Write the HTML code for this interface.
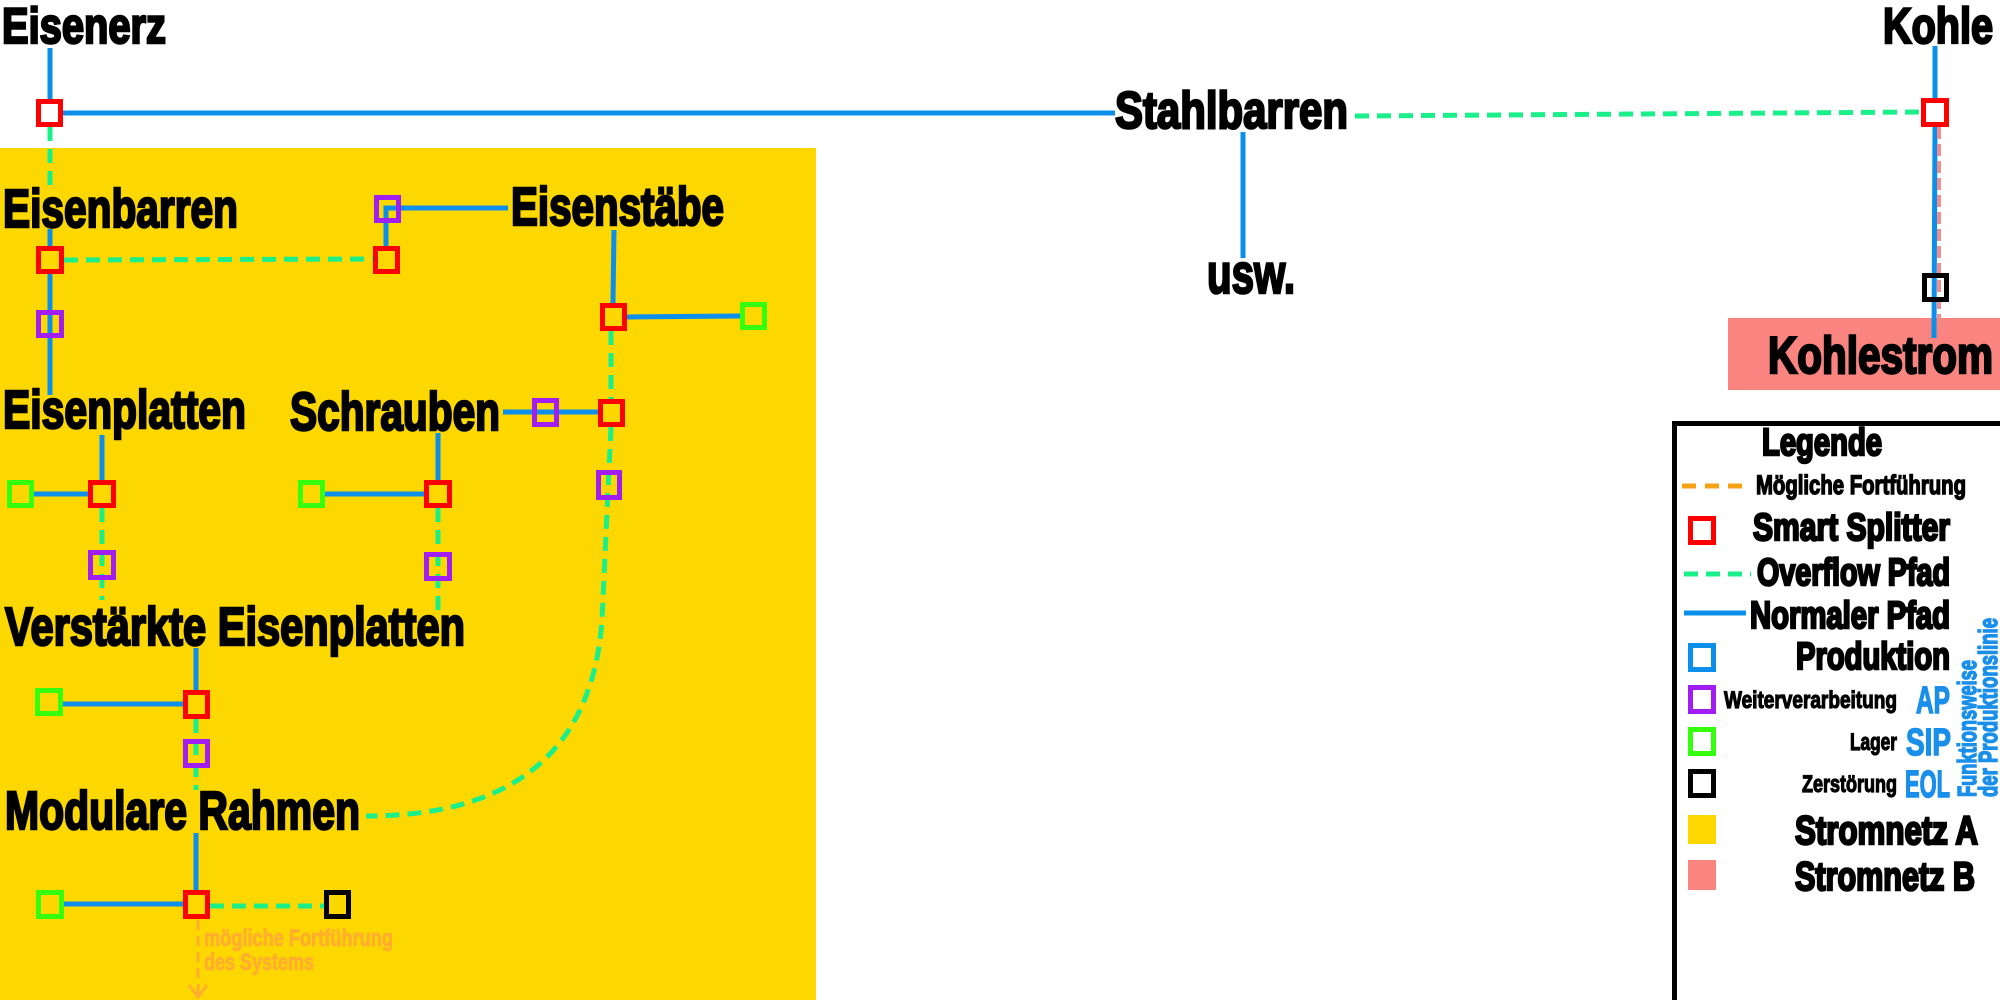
<!DOCTYPE html>
<html><head><meta charset="utf-8"><style>
html,body{margin:0;padding:0;background:#fff;width:2000px;height:1000px;overflow:hidden}
svg{display:block}
text{font-family:"Liberation Sans",sans-serif;font-weight:bold;fill:#000}
.t{stroke:#000;stroke-width:2.5}
.b text{fill:#1A8FEA;stroke:#1A8FEA;stroke-width:1.5}
</style></head><body>
<svg width="2000" height="1000" viewBox="0 0 2000 1000" xmlns="http://www.w3.org/2000/svg">
<rect x="0" y="0" width="2000" height="1000" fill="#fff"/>
<rect x="0" y="148" width="816" height="852" fill="#FDD700"/>
<rect x="1728" y="318" width="272" height="72" fill="#FA8480"/>

<g fill="none" stroke-linecap="butt">
<g stroke="#0C8FEA" stroke-width="5">
<line x1="50" y1="48" x2="50" y2="99"/>
<line x1="63" y1="113" x2="1115" y2="113"/>
<line x1="1243" y1="132" x2="1243" y2="258"/>
<line x1="1935" y1="46" x2="1935" y2="98"/>
<line x1="1935" y1="127" x2="1934" y2="338"/>
<line x1="50" y1="229" x2="50" y2="246"/>
<line x1="50" y1="274" x2="50" y2="395"/>
<polyline points="386,246 386,208 508,208"/>
<line x1="614" y1="230" x2="613" y2="303"/>
<line x1="627" y1="317" x2="740" y2="316"/>
<line x1="503" y1="412" x2="598" y2="412"/>
<line x1="102" y1="435" x2="102" y2="480"/>
<line x1="34" y1="494" x2="88" y2="494"/>
<line x1="438" y1="433" x2="438" y2="480"/>
<line x1="325" y1="494" x2="424" y2="494"/>
<line x1="196" y1="648" x2="196" y2="690"/>
<line x1="63" y1="704" x2="183" y2="704"/>
<line x1="196" y1="833" x2="196" y2="890"/>
<line x1="64" y1="904" x2="183" y2="904"/>
<line x1="1684" y1="613" x2="1746" y2="613"/>
</g>
<g stroke="#19F08A" stroke-width="5" stroke-dasharray="14 8">
<line x1="50" y1="127" x2="50" y2="190"/>
<line x1="64" y1="260" x2="373" y2="259"/>
<line x1="1355" y1="116" x2="1921" y2="112"/>
<line x1="611" y1="331" x2="611" y2="399"/>
<path d="M611,427 L602,620 Q588,816 366,816"/>
<line x1="102" y1="508" x2="102" y2="600"/>
<line x1="438" y1="508" x2="438" y2="610"/>
<line x1="196" y1="719" x2="196" y2="790"/>
<line x1="210" y1="906" x2="324" y2="906"/>
<line x1="1684" y1="574" x2="1751" y2="574"/>
</g>
<line x1="1939" y1="127" x2="1939" y2="318" stroke="#F58C8C" stroke-width="4" stroke-dasharray="12 5"/>
<g stroke="#FFAE2E" stroke-width="3">
<line x1="198" y1="920" x2="198" y2="995" stroke-dasharray="10 6"/>
<polyline points="189,985 198,997 207,985"/>
</g>
<line x1="1682" y1="486" x2="1749" y2="486" stroke="#F5A214" stroke-width="5" stroke-dasharray="14 9"/>

<g stroke-width="5">
<g stroke="#FF0000">
<rect x="38.5" y="101.5" width="22" height="23" fill="#fff"/>
<rect x="1923.5" y="100.5" width="23" height="24" fill="#fff"/>
<rect x="38.5" y="248.5" width="23" height="23"/>
<rect x="375.5" y="248.5" width="22" height="23"/>
<rect x="602.5" y="305.5" width="22" height="23"/>
<rect x="600.5" y="401.5" width="22" height="23"/>
<rect x="90.5" y="482.5" width="23" height="23"/>
<rect x="426.5" y="482.5" width="23" height="23"/>
<rect x="185.5" y="692.5" width="22" height="24"/>
<rect x="185.5" y="892.5" width="22" height="24"/>
<rect x="1690.5" y="518.5" width="23" height="24"/>
</g>
<g stroke="#A21DF2">
<rect x="376.5" y="197.5" width="22" height="23"/>
<rect x="38.5" y="312.5" width="23" height="23"/>
<rect x="534.5" y="400.5" width="22" height="24"/>
<rect x="598.5" y="472.5" width="21" height="25"/>
<rect x="90.5" y="552.5" width="23" height="25"/>
<rect x="426.5" y="554.5" width="23" height="24"/>
<rect x="185.5" y="741.5" width="22" height="24"/>
<rect x="1690.5" y="687.5" width="23" height="24"/>
</g>
<g stroke="#33FF0F">
<rect x="742.5" y="304.5" width="22" height="23"/>
<rect x="9.5" y="482.5" width="22" height="23"/>
<rect x="300.5" y="482.5" width="22" height="23"/>
<rect x="37.5" y="690.5" width="23" height="23"/>
<rect x="38.5" y="892.5" width="23" height="24"/>
<rect x="1690.5" y="729.5" width="23" height="24"/>
</g>
<g stroke="#000">
<rect x="1924.5" y="275.5" width="22" height="24"/>
<rect x="326.5" y="892.5" width="22" height="24"/>
<rect x="1690.5" y="771.5" width="23" height="24"/>
</g>
<rect x="1690.5" y="645.5" width="23" height="24" stroke="#0C8FEA"/>
</g>
</g>
<rect x="1688" y="815" width="28" height="29" fill="#FDD700"/>
<rect x="1688" y="860" width="28" height="30" fill="#FA8480"/>
<polyline points="1674.5,1000 1674.5,423.5 2000,423.5" fill="none" stroke="#000" stroke-width="5"/>

<g class="t">
<text x="2" y="43" font-size="50" textLength="164" lengthAdjust="spacingAndGlyphs">Eisenerz</text>
<text x="1115" y="128" font-size="52" textLength="233" lengthAdjust="spacingAndGlyphs">Stahlbarren</text>
<text x="1883" y="43" font-size="50" textLength="110" lengthAdjust="spacingAndGlyphs">Kohle</text>
<text x="1207" y="293" font-size="56" textLength="88" lengthAdjust="spacingAndGlyphs">usw.</text>
<text x="1768" y="373" font-size="52" textLength="225" lengthAdjust="spacingAndGlyphs">Kohlestrom</text>
<text x="3" y="227" font-size="54" textLength="235" lengthAdjust="spacingAndGlyphs">Eisenbarren</text>
<text x="511" y="225" font-size="54" textLength="213" lengthAdjust="spacingAndGlyphs">Eisenstäbe</text>
<text x="3" y="428" font-size="54" textLength="243" lengthAdjust="spacingAndGlyphs">Eisenplatten</text>
<text x="290" y="430" font-size="54" textLength="210" lengthAdjust="spacingAndGlyphs">Schrauben</text>
<text x="5" y="645" font-size="54" textLength="460" lengthAdjust="spacingAndGlyphs">Verstärkte Eisenplatten</text>
<text x="5" y="829" font-size="54" textLength="355" lengthAdjust="spacingAndGlyphs">Modulare Rahmen</text>

<text x="1762" y="455" font-size="38" textLength="120" lengthAdjust="spacingAndGlyphs">Legende</text>
<text x="1756" y="494" font-size="27" textLength="210" lengthAdjust="spacingAndGlyphs" style="stroke-width:1.5">Mögliche Fortführung</text>
<text x="1753" y="540" font-size="38" textLength="197" lengthAdjust="spacingAndGlyphs">Smart Splitter</text>
<text x="1757" y="585" font-size="38" textLength="193" lengthAdjust="spacingAndGlyphs">Overflow Pfad</text>
<text x="1750" y="628" font-size="38" textLength="200" lengthAdjust="spacingAndGlyphs">Normaler Pfad</text>
<text x="1796" y="669" font-size="38" textLength="154" lengthAdjust="spacingAndGlyphs">Produktion</text>
<text x="1724" y="708" font-size="24" textLength="173" lengthAdjust="spacingAndGlyphs" style="stroke-width:1.2">Weiterverarbeitung</text>
<text x="1850" y="750" font-size="24" textLength="47" lengthAdjust="spacingAndGlyphs" style="stroke-width:1.2">Lager</text>
<text x="1802" y="792" font-size="24" textLength="95" lengthAdjust="spacingAndGlyphs" style="stroke-width:1.2">Zerstörung</text>
<text x="1795" y="844" font-size="40" textLength="183" lengthAdjust="spacingAndGlyphs">Stromnetz A</text>
<text x="1795" y="890" font-size="40" textLength="180" lengthAdjust="spacingAndGlyphs">Stromnetz B</text>
</g>
<g class="b">
<text x="1916" y="713" font-size="38" textLength="34" lengthAdjust="spacingAndGlyphs">AP</text>
<text x="1906" y="755" font-size="38" textLength="45" lengthAdjust="spacingAndGlyphs">SIP</text>
<text x="1905" y="797" font-size="38" textLength="45" lengthAdjust="spacingAndGlyphs">EOL</text>
<text transform="translate(1976,797) rotate(-90)" x="0" y="0" font-size="26" textLength="137" lengthAdjust="spacingAndGlyphs">Funktionsweise</text>
<text transform="translate(1997,797) rotate(-90)" x="0" y="0" font-size="26" textLength="179" lengthAdjust="spacingAndGlyphs">der Produktionslinie</text>
</g>
<text x="204" y="946" font-size="24" textLength="189" lengthAdjust="spacingAndGlyphs" style="fill:#FFAE2E;stroke:#FFAE2E;stroke-width:0.8">mögliche Fortführung</text>
<text x="204" y="970" font-size="24" textLength="110" lengthAdjust="spacingAndGlyphs" style="fill:#FFAE2E;stroke:#FFAE2E;stroke-width:0.8">des Systems</text>
</svg>
</body></html>
